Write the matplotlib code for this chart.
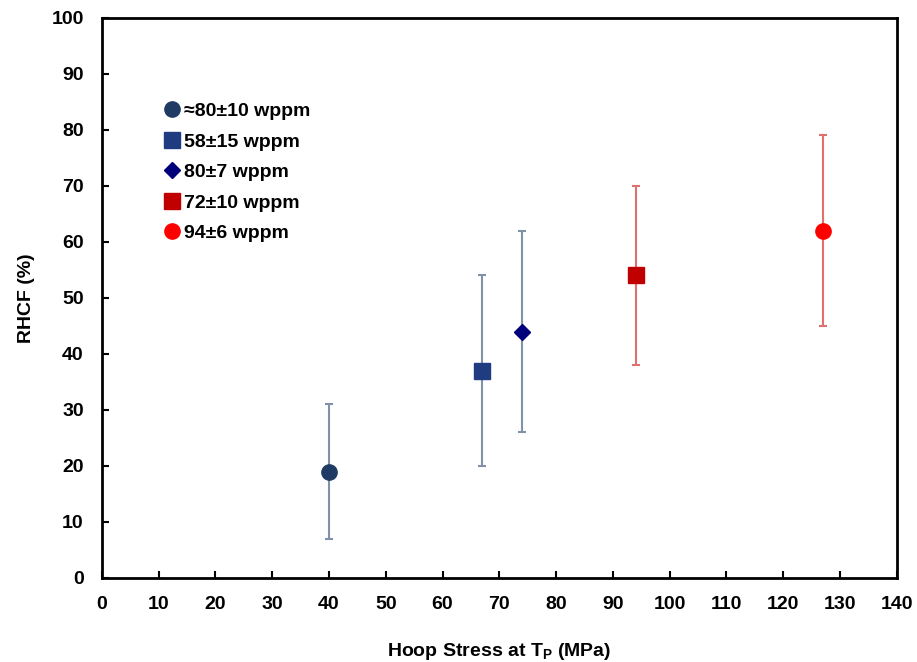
import matplotlib
matplotlib.use("Agg")
import matplotlib.pyplot as plt

plt.rcParams['font.family'] = ['Liberation Sans', 'DejaVu Sans']
plt.rcParams['font.weight'] = 'bold'

# data
labels = ["≈80±10 wppm", "58±15 wppm", "80±7 wppm", "72±10 wppm", "94±6 wppm"]
hoop_stress = [40, 67, 74, 94, 127]
rhcf = [19, 37, 44, 54, 62]
err_low = [7, 20, 26, 38, 45]
err_high = [31, 54, 62, 70, 79]

markers = ["o", "s", "D", "s", "o"]
marker_sizes = [11, 11, 8.5, 11, 11]
colors = ["#1f3b63", "#1f3c80", "#00007a", "#c00000", "#ff0000"]
bar_colors = ["#8092a8", "#8092a8", "#8092a8", "#e07070", "#e07070"]

fig = plt.figure(figsize=(9.17, 6.62), dpi=100)
ax = fig.add_axes([0.111, 0.127, 0.867, 0.846])

for i in range(len(labels)):
    lo = rhcf[i] - err_low[i]
    hi = err_high[i] - rhcf[i]
    ax.errorbar(hoop_stress[i], rhcf[i], yerr=[[lo], [hi]], fmt='none',
                ecolor=bar_colors[i], elinewidth=1.5, capsize=3, capthick=1.5, zorder=2)
    ax.plot(hoop_stress[i], rhcf[i], linestyle='none', marker=markers[i],
            markersize=marker_sizes[i], color=colors[i], label=labels[i], zorder=3)

ax.set_xlim(0, 140)
ax.set_ylim(0, 100)
ax.set_xticks(range(0, 141, 10))
ax.set_yticks(range(0, 101, 10))
ax.tick_params(direction='in', length=5, width=1.5, labelsize=14)
ax.tick_params(axis='x', pad=13)
ax.tick_params(axis='y', pad=13)
for lab in ax.get_xticklabels() + ax.get_yticklabels():
    lab.set_fontweight('bold')
for sp in ax.spines.values():
    sp.set_linewidth(2)

ax.set_xlabel("Hoop Stress at T$_\\mathregular{P}$ (MPa)", fontsize=14, fontweight='bold', labelpad=20)
ax.set_ylabel("RHCF (%)", fontsize=14, fontweight='bold', labelpad=12)

leg = ax.legend(loc='upper left', bbox_to_anchor=(0.054, 0.88), frameon=False,
                handletextpad=0.1, handlelength=1.0, labelspacing=0.66,
                prop={'size': 14, 'weight': 'bold'})

fig.savefig("out.png", dpi=100)
